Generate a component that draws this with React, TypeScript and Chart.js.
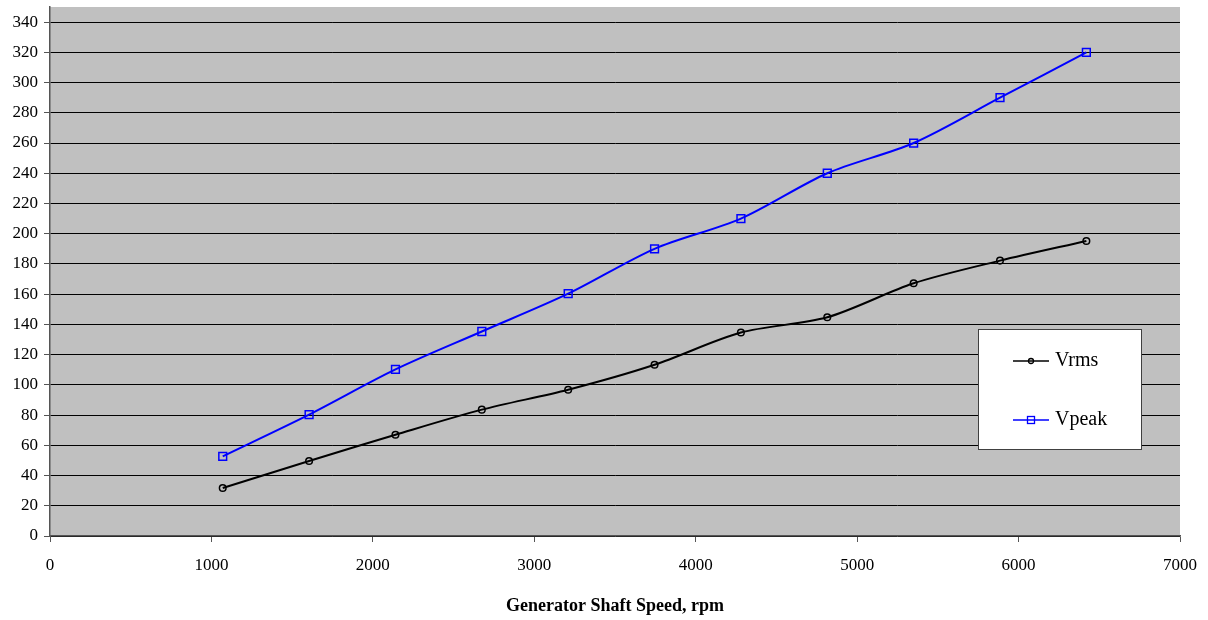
import React, { useEffect, useRef } from "react";
import { Chart, registerables } from "chart.js";

Chart.register(...registerables);

const speedRpm = [1070, 1605, 2140, 2675, 3210, 3745, 4280, 4815, 5350, 5885, 6420];
const vrms = [31.8, 49.6, 67, 83.6, 96.8, 113.3, 134.6, 144.7, 167.2, 182.2, 195.2];
const vpeak = [52.7, 80.3, 110.2, 135.3, 160.3, 190, 210, 240, 260, 290, 320];
const seriesNames = ["Vrms", "Vpeak"];
const xTicks = [0, 1000, 2000, 3000, 4000, 5000, 6000, 7000];
const yTicks = [0, 20, 40, 60, 80, 100, 120, 140, 160, 180, 200, 220, 240, 260, 280, 300, 320, 340];
const xTitle = "Generator Shaft Speed, rpm";

const FONT = "'Liberation Serif', 'Times New Roman', serif";

const bgPlugin = {
  id: "plotBg",
  beforeDraw(chart: any) {
    const { ctx, chartArea } = chart;
    ctx.save();
    ctx.fillStyle = "#c0c0c0";
    ctx.fillRect(chartArea.left, chartArea.top, chartArea.right - chartArea.left, chartArea.bottom - chartArea.top);
    ctx.restore();
  },
};

const legendBoxPlugin = {
  id: "legendBox",
  afterDraw(chart: any) {
    const { ctx } = chart;
    const x0 = 978, y0 = 329, w = 163, h = 120;
    ctx.save();
    ctx.fillStyle = "#ffffff";
    ctx.fillRect(x0, y0, w, h);
    ctx.strokeStyle = "#404040";
    ctx.lineWidth = 1;
    ctx.strokeRect(x0 + 0.5, y0 + 0.5, w, h);
    ctx.font = `20px ${FONT}`;
    ctx.textBaseline = "middle";
    const rows = [361, 420];
    chart.data.datasets.forEach((ds: any, i: number) => {
      const y = rows[i];
      ctx.strokeStyle = ds.borderColor;
      ctx.lineWidth = 1.5;
      ctx.beginPath();
      ctx.moveTo(1013, y);
      ctx.lineTo(1049, y);
      ctx.stroke();
      ctx.lineWidth = 1.3;
      if (ds.pointStyle === "rect") {
        ctx.strokeRect(1027.5, y - 3.5, 7, 7);
      } else {
        ctx.beginPath();
        ctx.arc(1031, y, 2.5, 0, Math.PI * 2);
        ctx.stroke();
      }
      ctx.fillStyle = "#000000";
      ctx.textAlign = "left";
      ctx.fillText(ds.label, 1055, y);
    });
    ctx.restore();
  },
};

export default function App() {
  const ref = useRef<HTMLCanvasElement | null>(null);

  useEffect(() => {
    document.body.style.margin = "0";
    const canvas = ref.current!;
    const chart = new Chart(canvas, {
      type: "line",
      data: {
        datasets: [
          {
            label: seriesNames[0],
            data: speedRpm.map((x, i) => ({ x, y: vrms[i] })),
            borderColor: "#000000",
            backgroundColor: "transparent",
            borderWidth: 2,
            tension: 0.3,
            pointStyle: "circle",
            pointRadius: 3.3,
            pointBorderWidth: 1.5,
            pointBorderColor: "#000000",
            pointBackgroundColor: "transparent",
          },
          {
            label: seriesNames[1],
            data: speedRpm.map((x, i) => ({ x, y: vpeak[i] })),
            borderColor: "#0000ff",
            backgroundColor: "transparent",
            borderWidth: 2,
            tension: 0.3,
            pointStyle: "rect",
            pointRadius: 5.5,
            pointBorderWidth: 1.5,
            pointBorderColor: "#0000ff",
            pointBackgroundColor: "transparent",
          },
        ],
      },
      options: {
        responsive: false,
        animation: false,
        layout: { padding: { top: 6, right: 28, left: 0, bottom: 0 } },
        plugins: {
          legend: { display: false },
          tooltip: { enabled: false },
        },
        scales: {
          x: {
            type: "linear",
            min: 0,
            max: 7000,
            afterBuildTicks(axis: any) {
              axis.ticks = xTicks.map((v) => ({ value: v }));
            },
            ticks: {
              color: "#000",
              font: { family: FONT, size: 17 },
              padding: 13,
              maxRotation: 0,
              autoSkip: false,
              callback: (v: any) => String(v),
            },
            grid: {
              drawOnChartArea: false,
              drawTicks: true,
              tickLength: 6,
              tickColor: "#555",
            },
            border: { color: "#555", width: 1.5 },
            title: {
              display: true,
              text: xTitle,
              color: "#000",
              font: { family: FONT, size: 18, weight: "bold" },
              padding: { top: 14, bottom: 3 },
            },
            afterFit(scale: any) {
              scale.height = 84;
              scale.paddingLeft = 0;
              scale.paddingRight = 0;
            },
          },
          y: {
            type: "linear",
            min: 0,
            max: 350,
            afterBuildTicks(axis: any) {
              axis.ticks = yTicks.map((v) => ({ value: v }));
            },
            ticks: {
              color: "#000",
              font: { family: FONT, size: 17 },
              padding: 6,
              autoSkip: false,
              callback: (v: any) => String(v),
            },
            grid: {
              color: "#000",
              lineWidth: 1,
              tickLength: 6,
              tickColor: "#555",
            },
            border: { color: "#555", width: 1.5 },
            afterFit(scale: any) {
              scale.width = 50;
              scale.paddingTop = 0;
              scale.paddingBottom = 0;
            },
          },
        },
      },
      plugins: [bgPlugin, legendBoxPlugin],
    });
    return () => chart.destroy();
  }, []);

  return <canvas ref={ref} width={1208} height={620} style={{ display: "block" }} />;
}
